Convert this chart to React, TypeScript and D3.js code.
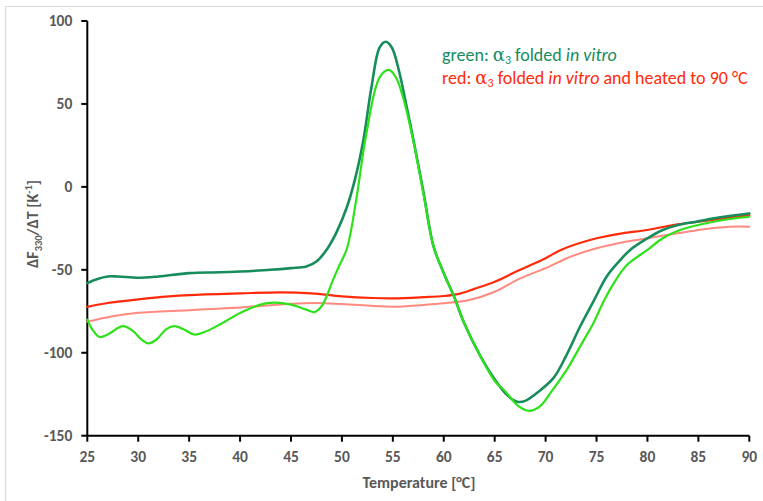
import React from "react";
import * as d3 from "d3";

// Temperature (°C) and dF330/dT (K^-1) samples for each trace
const darkGreenT = [25, 26, 27, 28, 30, 32, 35, 38, 40, 43, 45, 46.5, 47.5, 48.6, 49.5, 50.5, 51.3, 52.1, 52.9, 53.7, 54.3, 54.9, 55.6, 56.3, 57, 58, 59, 60, 61, 62, 63.6, 65, 66.3, 67.2, 68, 69.2, 70.8, 72, 73.4, 74.7, 76, 77.2, 78.3, 80, 81.5, 83, 84.8, 87, 90];
const darkGreenV = [-58, -55.5, -54, -54, -54.8, -54, -52, -51.5, -51, -50, -49, -48, -45, -37, -27, -12, 5, 28, 60, 84, 87.5, 84, 70, 50, 29, -3, -36, -52, -66, -82, -102, -116, -126, -129.5, -129, -124, -115, -102, -84, -69, -54, -45, -38, -31, -26, -23, -21, -18.5, -16];

const lightGreenT = [25, 25.5, 26.2, 27, 28.5, 29.5, 30.3, 31, 31.8, 32.7, 33.5, 34.5, 35.5, 36.5, 38, 40, 42, 43.3, 45, 46.5, 47.3, 48, 48.5, 49, 49.7, 50.5, 51.4, 52.4, 53.7, 54.6, 55.3, 56, 57, 58, 59, 60, 61, 62, 63.6, 65, 66, 67.3, 68.4, 69.5, 70.5, 72.1, 73.5, 74.7, 75.7, 76.7, 78, 80, 81.5, 83.2, 86.5, 90];
const lightGreenV = [-80, -86, -90.5, -89, -84, -87, -92, -94.3, -92, -86, -84, -86, -89, -87.5, -83, -76, -71, -69.8, -71, -74, -75.5, -72, -66, -58, -48, -37, -8, 32, 66, 70.5, 66, 54, 28, -4, -36, -52, -66, -82, -102, -117, -123, -132, -135, -132, -124, -110, -95, -82, -69, -58, -47, -38, -31, -26, -21, -18];

const redT = [25, 27, 30, 33, 35, 40, 44, 47, 50, 53, 55, 58, 60, 61.5, 63, 65, 67.5, 70, 71.5, 75, 77.5, 80, 82.5, 85, 87.5, 90];
const redV = [-72.3, -70, -67.8, -66, -65.2, -64.2, -63.6, -64.2, -66, -67, -67.2, -66.5, -65.8, -64.5, -61.5, -57.2, -50, -43, -38, -31, -28, -26, -23, -21, -19, -17];

const pinkT = [25, 27.5, 30, 35, 40, 45, 47.5, 50, 55, 58, 60, 62.5, 65, 67.5, 70, 72.5, 75, 77.5, 80, 85, 88, 90];
const pinkV = [-81.3, -78, -75.9, -74.3, -72.7, -70.5, -70, -70.6, -72.3, -71.2, -70.2, -68.2, -63.2, -55.2, -49, -42, -37, -33.5, -31, -26, -24, -24];

const xTicks = [25, 30, 35, 40, 45, 50, 55, 60, 65, 70, 75, 80, 85, 90];
const yTicks = [100, 50, 0, -50, -100, -150];

const W = 763;
const H = 501;
const font = "Carlito, Lato, 'Open Sans', sans-serif";
const tickGrey = "#595959";

export default function App() {
  const x = d3.scaleLinear().domain([25, 90]).range([87.3, 749.3]);
  const y = d3.scaleLinear().domain([-150, 100]).range([435.7, 21]);

  const line = d3
    .line<[number, number]>()
    .x((d) => x(d[0]))
    .y((d) => y(d[1]))
    .curve(d3.curveCatmullRom.alpha(0.5));

  const zip = (t: number[], v: number[]) => t.map((tt, i) => [tt, v[i]] as [number, number]);

  const series = [
    { t: pinkT, v: pinkV, color: "#ff8a80", w: 2 },
    { t: redT, v: redV, color: "#ff2a0a", w: 2.2 },
    { t: darkGreenT, v: darkGreenV, color: "#178c5c", w: 2.6 },
    { t: lightGreenT, v: lightGreenV, color: "#2ee21a", w: 2.2 },
  ];

  const x0 = x(25);
  const yBottom = y(-150);

  return (
    <svg
      width={W}
      height={H}
      style={{ position: "absolute", left: 0, top: 0, display: "block", background: "#fff" }}
    >
      {/* frame */}
      <line x1={5.5} y1={6.5} x2={W} y2={6.5} stroke="#d9d9d9" strokeWidth={1.2} />
      <line x1={5.5} y1={6.5} x2={5.5} y2={H} stroke="#d9d9d9" strokeWidth={1.2} />

      {/* axes */}
      <line x1={x0} y1={y(100)} x2={x0} y2={yBottom} stroke="#000" strokeWidth={2} />
      <line x1={x0} y1={yBottom} x2={x(90)} y2={yBottom} stroke="#000" strokeWidth={2} />
      {yTicks.map((t) => (
        <g key={"y" + t}>
          <line x1={x0 - 6} x2={x0} y1={y(t)} y2={y(t)} stroke="#000" strokeWidth={2} />
          <text
            x={x0 - 15}
            y={y(t)}
            dy="0.35em"
            textAnchor="end"
            fontFamily={font}
            fontWeight="bold"
            fontSize={15.5}
            fill={tickGrey}
          >
            {t}
          </text>
        </g>
      ))}
      {xTicks.map((t) => (
        <g key={"x" + t}>
          <line x1={x(t)} x2={x(t)} y1={yBottom} y2={yBottom + 6} stroke="#000" strokeWidth={2} />
          <text
            x={x(t)}
            y={457}
            dy="0.35em"
            textAnchor="middle"
            fontFamily={font}
            fontWeight="bold"
            fontSize={15.5}
            fill={tickGrey}
          >
            {t}
          </text>
        </g>
      ))}

      {/* axis titles */}
      <text
        x={419}
        y={482}
        dy="0.35em"
        textAnchor="middle"
        fontFamily={font}
        fontWeight="bold"
        fontSize={16}
        fill={tickGrey}
      >
        Temperature [°C]
      </text>
      <text
        transform="translate(32,224) rotate(-90)"
        textAnchor="middle"
        dy="0.35em"
        fontFamily={font}
        fontWeight="bold"
        fontSize={16}
        fill={tickGrey}
      >
        ΔF<tspan fontSize={10.5} dy={4}>330</tspan>
        <tspan dy={-4}>/ΔT [K</tspan>
        <tspan fontSize={10.5} dy={-6}>-1</tspan>
        <tspan dy={6}>]</tspan>
      </text>

      {/* traces */}
      {series.map((s, i) => (
        <path
          key={i}
          d={line(zip(s.t, s.v)) || ""}
          fill="none"
          stroke={s.color}
          strokeWidth={s.w}
          strokeLinejoin="round"
          strokeLinecap="round"
        />
      ))}

      {/* legend notes */}
      <text x={442} y={61} fontFamily={font} fontSize={18} fill="#178c5c">
        green: <tspan fontFamily="'DejaVu Serif', serif">α</tspan>
        <tspan fontSize={12} dy={3}>3</tspan>
        <tspan dy={-3}> folded </tspan>
        <tspan fontStyle="italic">in vitro</tspan>
      </text>
      <text x={442} y={83.5} fontFamily={font} fontSize={18} fill="#ff2a0a">
        red: <tspan fontFamily="'DejaVu Serif', serif">α</tspan>
        <tspan fontSize={12} dy={3}>3</tspan>
        <tspan dy={-3}> folded </tspan>
        <tspan fontStyle="italic">in vitro</tspan>
        <tspan> and heated to 90 °C</tspan>
      </text>
    </svg>
  );
}
